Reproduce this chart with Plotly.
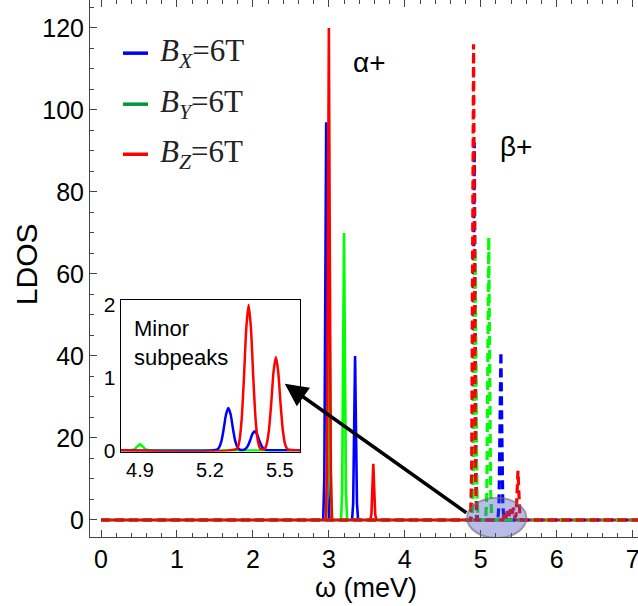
import plotly.graph_objects as go

# ---------------- main panel data (omega in meV, LDOS) ----------------
# solid curves (alpha+ peaks)
omega_bx_solid = [0, 2.925, 2.94, 2.953, 2.965, 2.977, 2.99, 3.005, 3.305, 3.32, 3.333, 3.345, 3.357, 3.37, 3.385, 7.1]
ldos_bx_solid = [0, 0, 10, 53, 97, 53, 10, 0, 0, 4, 22, 40, 22, 4, 0, 0]

omega_by_solid = [0, 2.965, 2.98, 2.993, 3.005, 3.017, 3.03, 3.045, 3.16, 3.175, 3.188, 3.2, 3.212, 3.225, 3.24, 7.1]
ldos_by_solid = [0, 0, 6, 33, 60, 33, 6, 0, 0, 7, 38, 70, 38, 7, 0, 0]

omega_bz_solid = [0, 2.96, 2.975, 2.988, 3.0, 3.012, 3.025, 3.04, 3.545, 3.56, 3.573, 3.585, 3.597, 3.61, 3.625, 7.1]
ldos_bz_solid = [0, 0, 12, 66, 120, 66, 12, 0, 0, 1.4, 7.5, 13.7, 7.5, 1.4, 0, 0]

# dashed curves (beta+ peaks)
omega_bx_dash = [0, 4.875, 4.89, 4.903, 4.915, 4.927, 4.94, 4.955, 5.225, 5.24, 5.253, 5.265, 5.277, 5.29, 5.305, 7.1]
ldos_bx_dash = [0, 0, 9, 50, 92, 50, 9, 0, 0, 4, 22, 41, 22, 4, 0, 0]

omega_by_dash = [0, 4.885, 4.9, 4.913, 4.925, 4.937, 4.95, 4.965, 5.065, 5.08, 5.093, 5.105, 5.117, 5.13, 5.145, 7.1]
ldos_by_dash = [0, 0, 6, 36, 66, 36, 6, 0, 0, 7, 38, 69, 38, 7, 0, 0]

omega_bz_dash = [0, 4.865, 4.88, 4.893, 4.905, 4.917, 4.93, 4.945, 5.29, 5.31, 5.33, 5.35, 5.37, 5.39, 5.41, 5.43,
                 5.45, 5.465, 5.478, 5.49, 5.502, 5.515, 5.53, 7.1]
ldos_bz_dash = [0, 0, 12, 64, 116, 64, 12, 0, 0, 1.5, 0.4, 2.2, 0.8, 2.6, 1.2, 3.0,
                0.5, 1.2, 6.5, 12, 6.5, 1.2, 0, 0]

# ---------------- inset data ("Minor subpeaks") ----------------
omega_in_bx = [4.817, 5.229, 5.239, 5.249, 5.259, 5.269, 5.279, 5.289, 5.299, 5.309, 5.319, 5.329,
               5.342, 5.352, 5.362, 5.372, 5.382, 5.392, 5.402, 5.412, 5.422, 5.432, 5.442, 5.586]
ldos_in_bx = [0, 0.006, 0.035, 0.12, 0.29, 0.49, 0.58, 0.49, 0.29, 0.12, 0.035, 0.006,
              0.003, 0.016, 0.055, 0.13, 0.22, 0.26, 0.22, 0.13, 0.055, 0.016, 0.003, 0]

omega_in_by = [4.817, 4.86, 4.875, 4.888, 4.9, 4.912, 4.925, 4.94, 5.586]
ldos_in_by = [0, 0, 0.01, 0.05, 0.08, 0.05, 0.01, 0, 0]

omega_in_bz = [4.817, 5.316, 5.326, 5.336, 5.346, 5.356, 5.366, 5.376, 5.386, 5.396, 5.406, 5.416,
               5.433, 5.443, 5.453, 5.463, 5.473, 5.483, 5.493, 5.503, 5.513, 5.523, 5.533, 5.586]
ldos_in_bz = [0, 0.02, 0.12, 0.42, 1.0, 1.68, 2.0, 1.68, 1.0, 0.42, 0.12, 0.02,
              0.013, 0.077, 0.27, 0.64, 1.08, 1.28, 1.08, 0.64, 0.27, 0.077, 0.013, 0]

x_ticks_main = [0, 1, 2, 3, 4, 5, 6, 7]
y_ticks_main = [0, 20, 40, 60, 80, 100, 120]
x_ticks_inset = [4.9, 5.2, 5.5]
y_ticks_inset = [0, 1, 2]

legend_labels = ["<i>B</i><sub><i>X</i></sub>=6T", "<i>B</i><sub><i>Y</i></sub>=6T", "<i>B</i><sub><i>Z</i></sub>=6T"]

BLUE = "#0000ff"
GREEN = "#00ff00"
RED = "#ff0000"
LEG_GREEN = "#00963c"

fig = go.Figure()

for xs, ys, c in [(omega_bx_solid, ldos_bx_solid, BLUE),
                  (omega_by_solid, ldos_by_solid, GREEN),
                  (omega_bz_solid, ldos_bz_solid, RED)]:
    fig.add_trace(go.Scatter(x=xs, y=ys, mode="lines", line=dict(color=c, width=2.6),
                             showlegend=False, hoverinfo="skip"))

for xs, ys, c in [(omega_bx_dash, ldos_bx_dash, BLUE),
                  (omega_by_dash, ldos_by_dash, GREEN),
                  (omega_bz_dash, ldos_bz_dash, RED)]:
    fig.add_trace(go.Scatter(x=xs, y=ys, mode="lines", line=dict(color=c, width=3.2, dash="9px,5px"),
                             showlegend=False, hoverinfo="skip"))

for xs, ys, c in [(omega_in_by, ldos_in_by, GREEN),
                  (omega_in_bx, ldos_in_bx, BLUE),
                  (omega_in_bz, ldos_in_bz, RED)]:
    fig.add_trace(go.Scatter(x=xs, y=ys, mode="lines", line=dict(color=c, width=2.5, shape="spline", smoothing=0.6),
                             xaxis="x2", yaxis="y2", showlegend=False, hoverinfo="skip"))

axis_font = dict(family="Liberation Sans, Arial", size=25, color="black")

fig.update_layout(
    width=638, height=606,
    margin=dict(l=90, r=0, t=0, b=69, pad=0),
    paper_bgcolor="white", plot_bgcolor="white",
    showlegend=False,
    xaxis=dict(range=[-0.145, 7.07], tickvals=x_ticks_main, ticks="inside", ticklen=7, tickwidth=1,
               tickcolor="#444", showline=True, linecolor="#444", linewidth=1, mirror="ticks",
               minor=dict(dtick=0.2, ticks="inside", ticklen=4, tickcolor="#444"),
               showgrid=False, zeroline=False, tickfont=axis_font, automargin=False,
               ticklabeloverflow="allow"),
    yaxis=dict(range=[-4.15, 126.8], tickvals=y_ticks_main, ticks="inside", ticklen=7, tickwidth=1,
               tickcolor="#444", showline=True, linecolor="#444", linewidth=1,
               minor=dict(dtick=5, ticks="inside", ticklen=4, tickcolor="#444"),
               showgrid=False, zeroline=False, tickfont=axis_font, automargin=False,
               ticklabeloverflow="allow"),
    xaxis2=dict(domain=[0.056, 0.383], anchor="y2", range=[4.817, 5.586], tickvals=x_ticks_inset,
                ticktext=[str(v) for v in x_ticks_inset], ticks="", showline=True, linecolor="black",
                linewidth=1, mirror=True, showgrid=False, zeroline=False, automargin=False,
                tickfont=dict(family="Liberation Sans, Arial", size=20, color="black")),
    yaxis2=dict(domain=[0.159, 0.442], anchor="x2", range=[-0.02, 2.07], tickvals=y_ticks_inset,
                ticks="", showline=True, linecolor="black", linewidth=1, mirror=True,
                showgrid=False, zeroline=False, automargin=False,
                tickfont=dict(family="Liberation Sans, Arial", size=21, color="black")),
)

# axis titles
fig.add_annotation(x=-0.1159, y=0.509, xref="paper", yref="paper", text="LDOS", showarrow=False,
                   textangle=-90, xanchor="center", yanchor="middle",
                   font=dict(family="Liberation Sans, Arial", size=30, color="black"))
fig.add_annotation(x=0.5036, y=-0.0951, xref="paper", yref="paper", text="ω (meV)", showarrow=False,
                   xanchor="center", yanchor="middle",
                   font=dict(family="Liberation Sans, Arial", size=27, color="black"))

# highlight ellipse around the beta+ minor peaks
fig.add_shape(type="circle", xref="x", yref="y", x0=4.82, x1=5.6, y0=-4.4, y1=5.4,
              fillcolor="rgba(70,80,190,0.38)", line=dict(color="rgba(110,110,110,0.6)", width=2), layer="above")

# arrow from ellipse to inset
fig.add_annotation(x=2.42, y=33.2, ax=4.83, ay=1.5, xref="x", yref="y", axref="x", ayref="y",
                   text="", showarrow=True, arrowhead=2, arrowsize=1.3, arrowwidth=3.5, arrowcolor="black")

# legend
leg_y = [0.901, 0.806, 0.7127]
for lab, yy, c in zip(legend_labels, leg_y, [BLUE, LEG_GREEN, RED]):
    fig.add_shape(type="line", xref="paper", yref="paper", x0=0.0602, x1=0.1058, y0=yy, y1=yy,
                  line=dict(color=c, width=3.5))
    fig.add_annotation(x=0.124, y=yy, xref="paper", yref="paper", text=lab, showarrow=False,
                       xanchor="left", yanchor="middle",
                       font=dict(family="Liberation Serif, Times New Roman", size=31, color="#222"))

# peak labels
fig.add_annotation(x=3.54, y=111.5, xref="x", yref="y", text="α+", showarrow=False,
                   font=dict(family="Liberation Sans, Arial", size=28, color="black"))
fig.add_annotation(x=5.47, y=91, xref="x", yref="y", text="β+", showarrow=False,
                   font=dict(family="Liberation Sans, Arial", size=28, color="black"))

# inset text
fig.add_annotation(x=0.0766, y=0.415, xref="paper", yref="paper", text="Minor<br>subpeaks", showarrow=False,
                   xanchor="left", yanchor="top", align="left",
                   font=dict(family="Liberation Sans, Arial", size=22, color="black"))

fig.write_html("out.html")
